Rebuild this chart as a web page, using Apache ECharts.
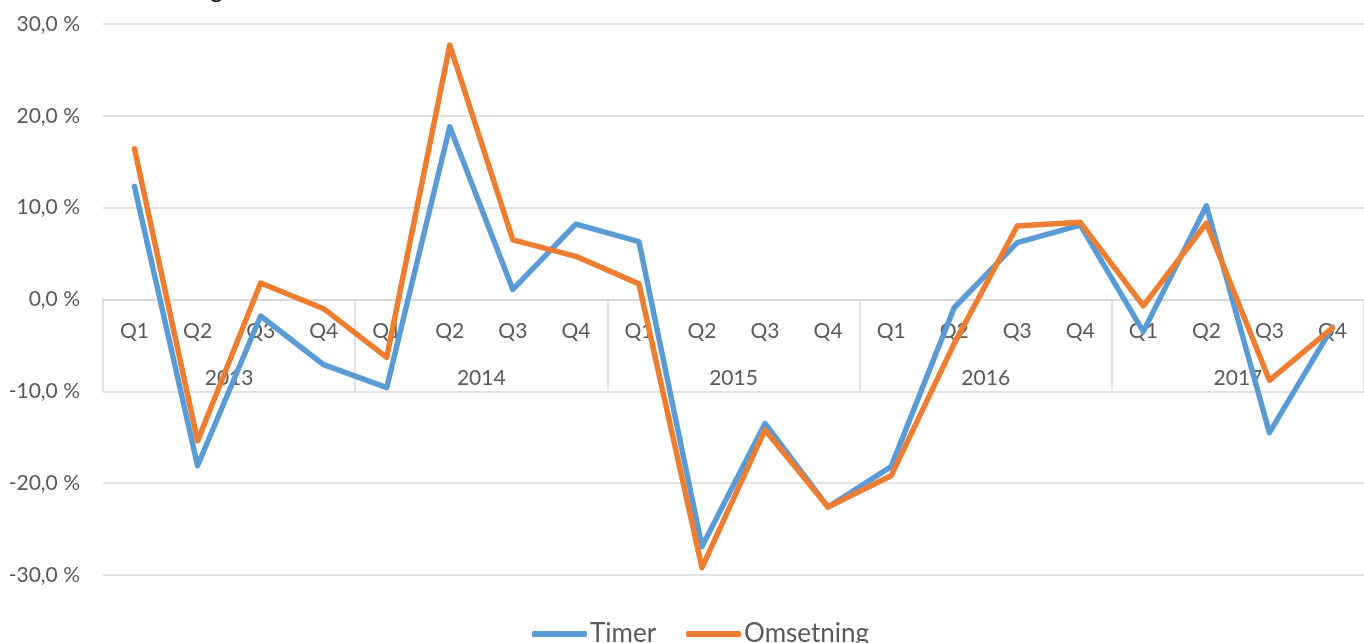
<!DOCTYPE html>
<html>
<head>
<meta charset="utf-8">
<script src="https://cdn.jsdelivr.net/npm/echarts@6/dist/echarts.min.js"></script>
<style>html,body{margin:0;padding:0;background:#fff;}#c{width:1364px;height:643px;}</style>
</head>
<body>
<div id="c"></div>
<script>
const quarters = ['Q1','Q2','Q3','Q4','Q1','Q2','Q3','Q4','Q1','Q2','Q3','Q4','Q1','Q2','Q3','Q4','Q1','Q2','Q3','Q4'];
const years = ['2013','2014','2015','2016','2017'];
const timer = [12.3,-18.1,-1.8,-7.1, -9.6,18.8,1.1,8.2, 6.3,-26.9,-13.5,-22.6, -18.2,-0.9,6.2,8.1, -3.5,10.2,-14.5,-3.0];
const omsetning = [16.4,-15.4,1.8,-1.0, -6.3,27.7,6.5,4.7, 1.7,-29.2,-14.2,-22.6, -19.2,-4.8,8.0,8.4, -0.7,8.3,-8.8,-3.1];
const yTicks = {min:-30, max:30, interval:10};

const FONT = 'Lato';
const W = 1364, H = 643, GT = 24, GB = 68, GL = 103;
const gridH = H - GT - GB;
// x axes sit on the zero line of the value axis
const zeroOffset = -gridH * (0 - yTicks.min) / (yTicks.max - yTicks.min);

const chart = echarts.init(document.getElementById('c'), null, {renderer:'canvas'});
chart.setOption({
  animation:false,
  textStyle:{fontFamily:FONT},
  title:{text:'Endring', left:137, top:-27, textStyle:{fontFamily:FONT, fontSize:24, fontWeight:'normal', color:'#000'}},
  grid:{left:GL, right:0, top:GT, bottom:GB, containLabel:false, outerBoundsMode:'none'},
  legend:{
    data:['Timer','Omsetning'], left:527, top:616, icon:'roundRect', itemWidth:55, itemHeight:6, itemGap:30,
    textStyle:{fontFamily:FONT, fontSize:26, color:'#595959', padding:[0,0,0,-2]}
  },
  xAxis:[
    {type:'category', data:quarters, boundaryGap:true, position:'bottom', offset:zeroOffset,
     axisLine:{onZero:false, lineStyle:{color:'#d9d9d9', width:1.5}},
     axisTick:{show:false},
     axisLabel:{interval:0, margin:21, fontFamily:FONT, fontSize:21, color:'#595959'},
     splitLine:{show:false}},
    {type:'category', data:years, boundaryGap:true, position:'bottom', offset:zeroOffset,
     axisLine:{onZero:false, lineStyle:{color:'#d9d9d9', width:1.5}},
     axisTick:{show:true, interval:0, length:92, lineStyle:{color:'#d9d9d9', width:1.5}},
     axisLabel:{interval:0, margin:68, fontFamily:FONT, fontSize:21, color:'#595959'},
     splitLine:{show:false}}
  ],
  yAxis:[
    {type:'value', min:yTicks.min, max:yTicks.max, interval:yTicks.interval,
     axisLine:{show:false}, axisTick:{show:false},
     axisLabel:{margin:23, fontFamily:FONT, fontSize:21, color:'#595959',
       formatter:v=>v.toFixed(1).replace('.',',')+' %'},
     splitLine:{lineStyle:{color:'#d9d9d9', width:1.5}}}
  ],
  series:[
    {name:'Timer', type:'line', data:timer, xAxisIndex:0, yAxisIndex:0, symbol:'none',
     itemStyle:{color:'#5B9BD5'}, lineStyle:{color:'#5B9BD5', width:5.5, join:'round', cap:'round'}},
    {name:'Omsetning', type:'line', data:omsetning, xAxisIndex:0, yAxisIndex:0, symbol:'none',
     itemStyle:{color:'#ED7D31'}, lineStyle:{color:'#ED7D31', width:5.5, join:'round', cap:'round'}}
  ]
});
</script>
</body>
</html>
